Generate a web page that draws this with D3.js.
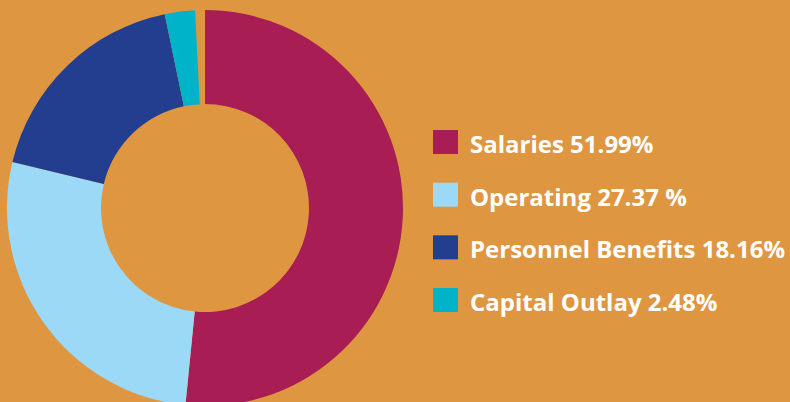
<!DOCTYPE html>
<html>
<head>
<meta charset="utf-8">
<script src="https://cdn.jsdelivr.net/npm/d3@7"></script>
<style>
  body { margin: 0; background: #DF9641; }
  svg { display: block; }
</style>
</head>
<body>
<svg id="chart"></svg>
<script>
const width = 790;
const height = 402;

const categories = ["Salaries", "Operating", "Personnel Benefits", "Capital Outlay"];
const shares = [51.99, 27.37, 18.16, 2.48];
const labels = ["Salaries 51.99%", "Operating 27.37 %", "Personnel Benefits 18.16%", "Capital Outlay 2.48%"];
const colors = ["#A91D55", "#9BD9F6", "#233E8E", "#00B3C9"];

const data = categories.map((c, i) => ({ name: c, value: shares[i], label: labels[i] }));

const svg = d3.select("#chart")
    .attr("width", width)
    .attr("height", height);

const color = d3.scaleOrdinal()
    .domain(categories)
    .range(colors);

// the donut leaves a thin gap at twelve o'clock
const pie = d3.pie()
    .sort(null)
    .value(d => d.value)
    .startAngle(0)
    .endAngle(2 * Math.PI * 0.992);

const arc = d3.arc()
    .innerRadius(104)
    .outerRadius(198);

svg.append("g")
    .attr("transform", "translate(205, 208)")
    .selectAll("path")
    .data(pie(data))
    .enter()
    .append("path")
    .attr("d", arc)
    .attr("fill", d => color(d.data.name));

const legendY = d3.scalePoint()
    .domain(categories)
    .range([142, 300]);

const legend = svg.append("g")
    .selectAll("g")
    .data(data)
    .enter()
    .append("g")
    .attr("transform", d => `translate(433, ${legendY(d.name)})`);

legend.append("rect")
    .attr("x", 0)
    .attr("y", -12)
    .attr("width", 25)
    .attr("height", 24)
    .attr("fill", d => color(d.name));

legend.append("text")
    .attr("x", 37)
    .attr("y", 11)
    .attr("fill", "#fff")
    .style("font-family", "'Open Sans', sans-serif")
    .style("font-weight", 700)
    .style("font-size", "24px")
    .text(d => d.label);
</script>
</body>
</html>
